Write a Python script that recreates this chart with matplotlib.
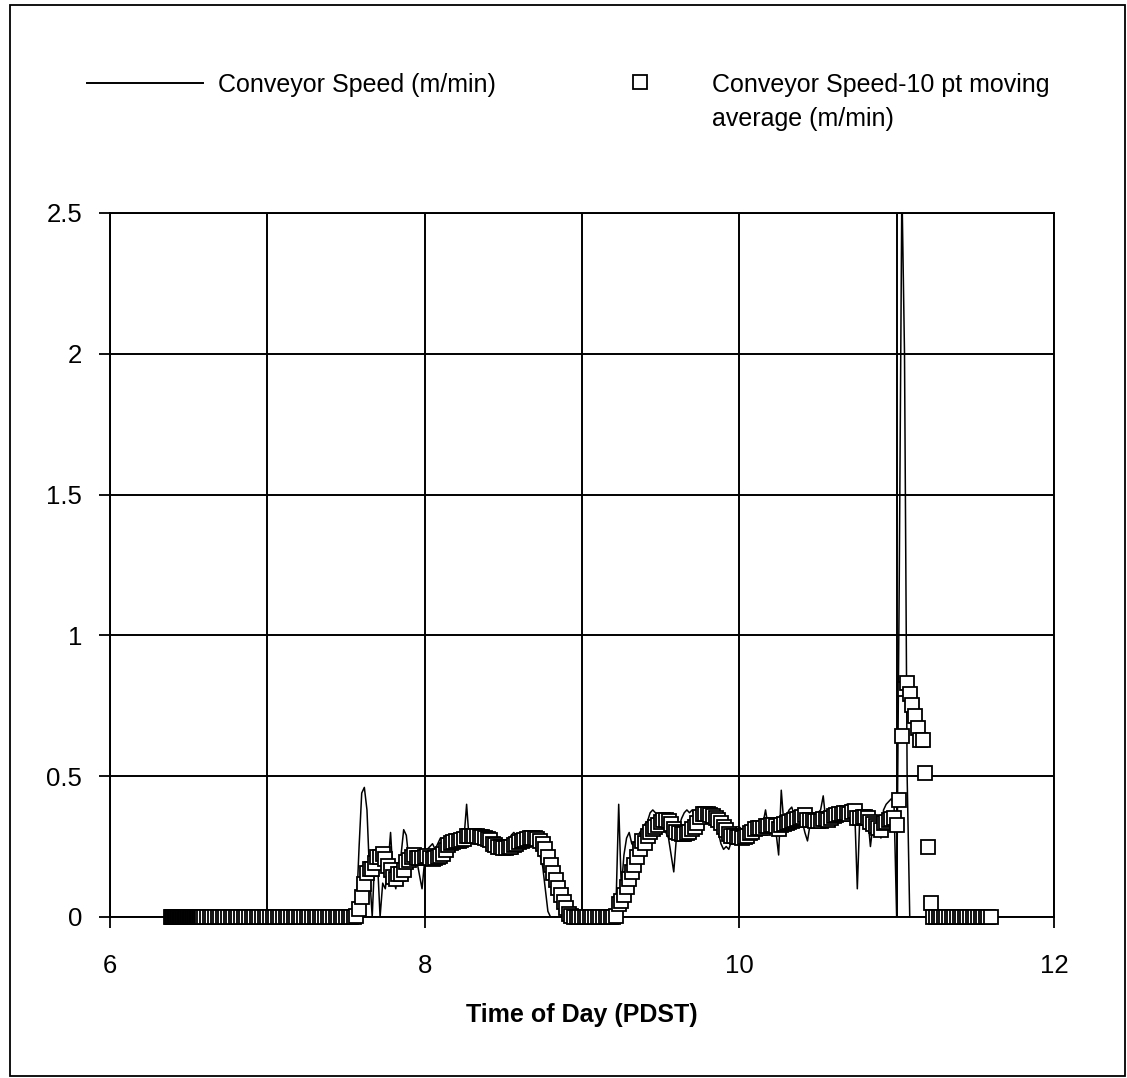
import numpy as np
import pandas as pd
import matplotlib
matplotlib.use("Agg")
import matplotlib.pyplot as plt
from matplotlib.lines import Line2D
from matplotlib.patches import Rectangle

plt.rcParams['font.family'] = ['Liberation Sans', 'DejaVu Sans']

# logger start: fast sampling, conveyor stopped
DENSE_START = 6.39          # hour of day
DENSE_STEP = 0.004          # hours between samples
dense_speed = [0.0] * 50

# main record: one sample per minute from 6.6 h
MAIN_START = 6.6
MAIN_STEP = 1.0 / 60.0

# 6.600 - 7.533  stopped
speed_a = [0.0] * 57
# 7.550 - 8.783  first run
speed_b = [0.00, 0.03, 0.25, 0.44, 0.46, 0.38, 0.15, 0.00, 0.22, 0.20,
           0.00, 0.12, 0.10, 0.18, 0.30, 0.14, 0.10, 0.18, 0.22, 0.31,
           0.29, 0.20, 0.22, 0.24, 0.20, 0.15, 0.10, 0.20, 0.24, 0.25,
           0.26, 0.24, 0.26, 0.28, 0.27, 0.28, 0.27, 0.28, 0.28, 0.27,
           0.28, 0.27, 0.28, 0.40, 0.27, 0.28, 0.27, 0.26, 0.27, 0.25,
           0.26, 0.24, 0.25, 0.23, 0.24, 0.23, 0.25, 0.24, 0.26, 0.27,
           0.29, 0.30, 0.29, 0.28, 0.29, 0.28, 0.28, 0.27, 0.27, 0.26,
           0.25, 0.22, 0.18, 0.10, 0.02]
# 8.800 - 9.200  stopped
speed_c = [0.0] * 25
# 9.217 - 10.983  second run
speed_d = [0.05, 0.40, 0.10, 0.22, 0.28, 0.30, 0.26, 0.25, 0.27, 0.30,
           0.31, 0.33, 0.34, 0.37, 0.38, 0.37, 0.36, 0.35, 0.33, 0.30,
           0.28, 0.22, 0.16, 0.28, 0.32, 0.35, 0.37, 0.38, 0.37, 0.38,
           0.36, 0.37, 0.38, 0.36, 0.35, 0.33, 0.34, 0.33, 0.32, 0.30,
           0.26, 0.24, 0.25, 0.24, 0.27, 0.31, 0.32, 0.32, 0.31, 0.32,
           0.31, 0.32, 0.31, 0.32, 0.31, 0.32, 0.33, 0.38, 0.32, 0.33,
           0.31, 0.30, 0.22, 0.45, 0.33, 0.36, 0.38, 0.39, 0.36, 0.37,
           0.35, 0.34, 0.30, 0.27, 0.33, 0.35, 0.36, 0.37, 0.38, 0.43,
           0.34, 0.33, 0.35, 0.36, 0.35, 0.37, 0.38, 0.39, 0.40, 0.39,
           0.40, 0.38, 0.10, 0.37, 0.36, 0.38, 0.35, 0.25, 0.33, 0.30,
           0.35, 0.28, 0.38, 0.40, 0.41, 0.42, 0.40]
# 11.000 - 11.600  surge then stop
speed_e = [0.00, 1.20, 2.60, 2.00, 0.50] + [0.0] * 32

dense_t = DENSE_START + DENSE_STEP * np.arange(len(dense_speed))
main_speed = speed_a + speed_b + speed_c + speed_d + speed_e
main_t = MAIN_START + MAIN_STEP * np.arange(len(main_speed))

t = np.concatenate([dense_t, main_t])
speed = np.array(dense_speed + main_speed)
speed_avg = pd.Series(speed).rolling(10, min_periods=1).mean().values

fig = plt.figure(figsize=(11.27, 10.78), dpi=100)
ax = fig.add_axes([0.0976, 0.1494, 0.8376, 0.6531])

ax.plot(t, speed, color='black', lw=1.1, zorder=3)
ax.plot(t, speed_avg, ls='none', marker='s', ms=10.5, mfc='white',
        mec='black', mew=1.3, zorder=4, clip_on=False)

ax.set_xlim(6, 12)
ax.set_ylim(0, 2.5)
ax.set_xticks([6, 8, 10, 12])
ax.set_xticks([7, 9, 11], minor=True)
ax.set_yticks([0, 0.5, 1, 1.5, 2, 2.5])
ax.set_yticklabels(['0', '0.5', '1', '1.5', '2', '2.5'])
ax.grid(True, which='both', color='black', lw=1.4)
ax.set_axisbelow(True)
ax.tick_params(axis='x', which='major', direction='out', length=8, width=1.3,
               pad=19, labelsize=18.5)
ax.tick_params(axis='x', which='minor', length=0)
ax.tick_params(axis='y', direction='out', length=8, width=1.3, pad=12,
               labelsize=18.5)
for s in ax.spines.values():
    s.set_color('black')
    s.set_linewidth(1.4)
ax.set_xlabel('Time of Day (PDST)', fontsize=18, fontweight='bold', labelpad=18)

# legend drawn by hand to follow the original layout
fig.add_artist(Line2D([0.0772, 0.1801], [0.923, 0.923], transform=fig.transFigure,
                      color='black', lw=1.4))
fig.text(0.1934, 0.932, 'Conveyor Speed (m/min)', fontsize=18, va='top')
fig.add_artist(Line2D([0.568], [0.924], transform=fig.transFigure, ls='none',
                      marker='s', ms=10, mfc='white', mec='black', mew=1.3))
fig.text(0.6318, 0.932, 'Conveyor Speed-10 pt moving\naverage (m/min)',
         fontsize=18, va='top', linespacing=1.5)

# page frame
fig.add_artist(Rectangle((0.0089, 0.002), 0.989, 0.9935, transform=fig.transFigure,
                         fill=False, ec='black', lw=1.3))

fig.savefig('out.png', dpi=100)
